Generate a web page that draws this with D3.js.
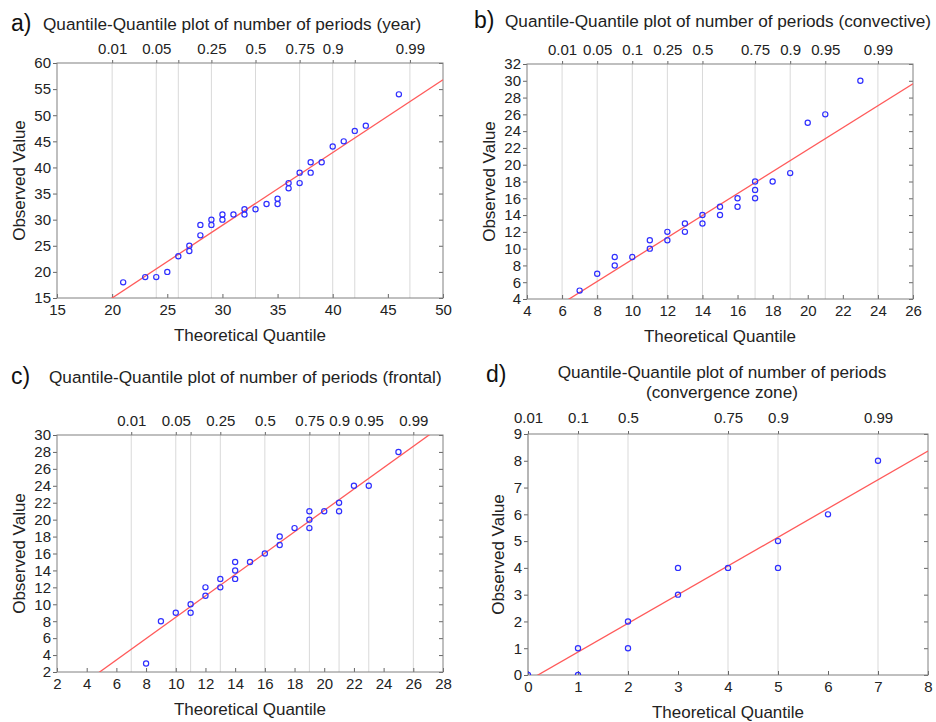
<!DOCTYPE html>
<html>
<head>
<meta charset="utf-8">
<script src="https://cdn.jsdelivr.net/npm/d3@7"></script>
<style>
  body { margin: 0; background: #fff; }
  svg { font-family: "Liberation Sans", Arial, sans-serif; }
  .tick text { fill: #222; }
</style>
</head>
<body>
<svg id="chart" width="936" height="722"></svg>
<script>
// ---- data ----
// a) year
const aTheo = [21,23,24,25,26,27,27,28,28,29,29,30,30,31,32,32,33,34,35,35,36,36,37,37,38,38,39,40,41,42,43,46];
const aObs  = [18,19,19,20,23,24,25,27,29,29,30,30,31,31,31,32,32,33,33,34,36,37,37,39,39,41,41,44,45,47,48,54];
const aFit = [-12.86, 1.393];            // intercept, slope
const aProbPos = [20,24,26,29,33,37,40,42,47];
const aProbLabels = ["0.01","0.05","","0.25","0.5","0.75","0.9","","0.99"];

// b) convective
const bTheo = [7,8,9,9,10,11,11,12,12,13,13,14,14,15,15,16,16,17,17,17,18,19,20,21,23];
const bObs  = [5,7,8,9,9,10,11,11,12,12,13,13,14,14,15,15,16,16,17,18,18,19,25,26,30];
const bFit = [-4.38, 1.309];
const bProbPos = [6,8,10,12,14,17,19,21,24];
const bProbLabels = ["0.01","0.05","0.1","0.25","0.5","0.75","0.9","0.95","0.99"];

// c) frontal
const cTheo = [8,9,10,11,11,12,12,13,13,14,14,14,15,16,17,17,18,19,19,19,20,21,21,22,23,25];
const cObs  = [3,8,9,9,10,11,12,12,13,13,14,15,15,16,17,18,19,19,20,21,21,21,22,24,24,28];
const cFit = [-4.15, 1.262];
const cProbPos = [7,10,11,13,16,19,21,23,26];
const cProbLabels = ["0.01","0.05","","0.25","0.5","0.75","0.9","0.95","0.99"];

// d) convergence zone
const dTheo = [0,1,1,2,2,3,3,4,5,5,6,7];
const dObs  = [0,0,1,1,2,3,4,4,4,5,6,8];
const dFit = [-0.214, 1.072];
const dProbPos = [0,1,2,4,5,7];
const dProbLabels = ["0.01","0.1","0.5","0.75","0.9","0.99"];

const svg = d3.select("#chart");

function drawPanel(p) {
    const g = svg.append("g");
    const x = d3.scaleLinear().domain(p.xDomain).range([p.left, p.right]);
    const y = d3.scaleLinear().domain(p.yDomain).range([p.bottom, p.top]);

    // clip for plot area
    g.append("clipPath").attr("id", "clip-" + p.id)
        .append("rect")
        .attr("x", p.left).attr("y", p.top)
        .attr("width", p.right - p.left).attr("height", p.bottom - p.top);

    // vertical grid at quantile positions
    g.append("g").selectAll("line")
        .data(p.probPos)
        .join("line")
        .attr("x1", d => x(d)).attr("x2", d => x(d))
        .attr("y1", p.top).attr("y2", p.bottom)
        .attr("stroke", "#d9d9d9").attr("stroke-width", 1);

    // axes
    const xTicks = d3.range(p.xDomain[0], p.xDomain[1] + 0.001, p.xStep);
    const yTicks = d3.range(p.yDomain[0], p.yDomain[1] + 0.001, p.yStep);

    const axB = g.append("g")
        .attr("transform", `translate(0,${p.bottom})`)
        .call(d3.axisBottom(x).tickValues(xTicks).tickSizeInner(-4).tickSizeOuter(0).tickPadding(6));
    const axL = g.append("g")
        .attr("transform", `translate(${p.left},0)`)
        .call(d3.axisLeft(y).tickValues(yTicks).tickSize(4).tickPadding(2));
    const axR = g.append("g")
        .attr("transform", `translate(${p.right},0)`)
        .call(d3.axisRight(y).tickValues(yTicks).tickSize(-4).tickFormat(""));
    const axT = g.append("g")
        .attr("transform", `translate(0,${p.top})`)
        .call(d3.axisTop(x).tickValues(p.probPos)
            .tickFormat((d, i) => p.probLabels[i]).tickSize(3).tickPadding(p.topPad || 6));

    [axB, axL, axR, axT].forEach(a => {
        a.select(".domain").remove();
        a.selectAll(".tick line").attr("stroke", "#666");
        a.selectAll(".tick text").attr("font-size", "15px").attr("fill", "#222")
            .attr("font-family", "'Liberation Sans', Arial, sans-serif");
    });

    // frame
    g.append("rect")
        .attr("x", p.left).attr("y", p.top)
        .attr("width", p.right - p.left).attr("height", p.bottom - p.top)
        .attr("fill", "none").attr("stroke", "#808080").attr("stroke-width", 1);

    const plot = g.append("g").attr("clip-path", `url(#clip-${p.id})`);

    // reference line
    const x0 = p.xDomain[0], x1 = p.xDomain[1];
    plot.append("line")
        .attr("x1", x(x0)).attr("y1", y(p.fit[0] + p.fit[1] * x0))
        .attr("x2", x(x1)).attr("y2", y(p.fit[0] + p.fit[1] * x1))
        .attr("stroke", "#ff5a5a").attr("stroke-width", 1.3);

    // points
    plot.append("g").selectAll("circle")
        .data(p.theo.map((t, i) => [t, p.obs[i]]))
        .join("circle")
        .attr("cx", d => x(d[0])).attr("cy", d => y(d[1]))
        .attr("r", 2.6)
        .attr("fill", "none").attr("stroke", "#2f2fff").attr("stroke-width", 1.2);

    // axis titles
    g.append("text")
        .attr("x", (p.left + p.right) / 2).attr("y", p.bottom + 43)
        .attr("text-anchor", "middle").attr("font-size", "17px").attr("fill", "#222")
        .text("Theoretical Quantile");
    g.append("text")
        .attr("transform", `translate(${p.yTitleX},${(p.top + p.bottom) / 2}) rotate(-90)`)
        .attr("text-anchor", "middle").attr("font-size", "17px").attr("fill", "#222")
        .text("Observed Value");

    // panel letter + title
    g.append("text")
        .attr("x", p.letterX).attr("y", p.letterY)
        .attr("font-size", "23px").attr("fill", "#111")
        .text(p.letter);
    p.title.forEach((t, i) => {
        g.append("text")
            .attr("x", p.titleX).attr("y", p.titleY + i * 20)
            .attr("text-anchor", p.titleAnchor)
            .attr("font-size", "17.2px").attr("fill", "#222")
            .text(t);
    });
}

drawPanel({
    id: "a", theo: aTheo, obs: aObs, fit: aFit, probPos: aProbPos, probLabels: aProbLabels,
    xDomain: [15, 50], xStep: 5, yDomain: [15, 60], yStep: 5,
    left: 57, right: 443, top: 63, bottom: 298, yTitleX: 25,
    letter: "a)", letterX: 11, letterY: 31,
    title: ["Quantile-Quantile plot of number of periods (year)"], titleX: 43, titleY: 30, titleAnchor: "start"
});
drawPanel({
    id: "b", theo: bTheo, obs: bObs, fit: bFit, probPos: bProbPos, probLabels: bProbLabels,
    xDomain: [4, 26], xStep: 2, yDomain: [4, 32], yStep: 2,
    left: 527, right: 913, top: 64, bottom: 299, yTitleX: 495,
    letter: "b)", letterX: 474, letterY: 28,
    title: ["Quantile-Quantile plot of number of periods (convective)"], titleX: 505, titleY: 27, titleAnchor: "start"
});
drawPanel({
    id: "c", theo: cTheo, obs: cObs, fit: cFit, probPos: cProbPos, probLabels: cProbLabels,
    xDomain: [2, 28], xStep: 2, yDomain: [2, 30], yStep: 2,
    left: 57, right: 443, top: 435, bottom: 672, yTitleX: 25,
    letter: "c)", letterX: 11, letterY: 384,
    title: ["Quantile-Quantile plot of number of periods (frontal)"], titleX: 49, titleY: 383, titleAnchor: "start"
});
drawPanel({
    id: "d", theo: dTheo, obs: dObs, fit: dFit, probPos: dProbPos, probLabels: dProbLabels,
    xDomain: [0, 8], xStep: 1, yDomain: [0, 9], yStep: 1,
    left: 528, right: 928, top: 434, bottom: 675, yTitleX: 504, topPad: 8,
    letter: "d)", letterX: 486, letterY: 382,
    title: ["Quantile-Quantile plot of number of periods", "(convergence zone)"], titleX: 722, titleY: 378, titleAnchor: "middle"
});
</script>
</body>
</html>
